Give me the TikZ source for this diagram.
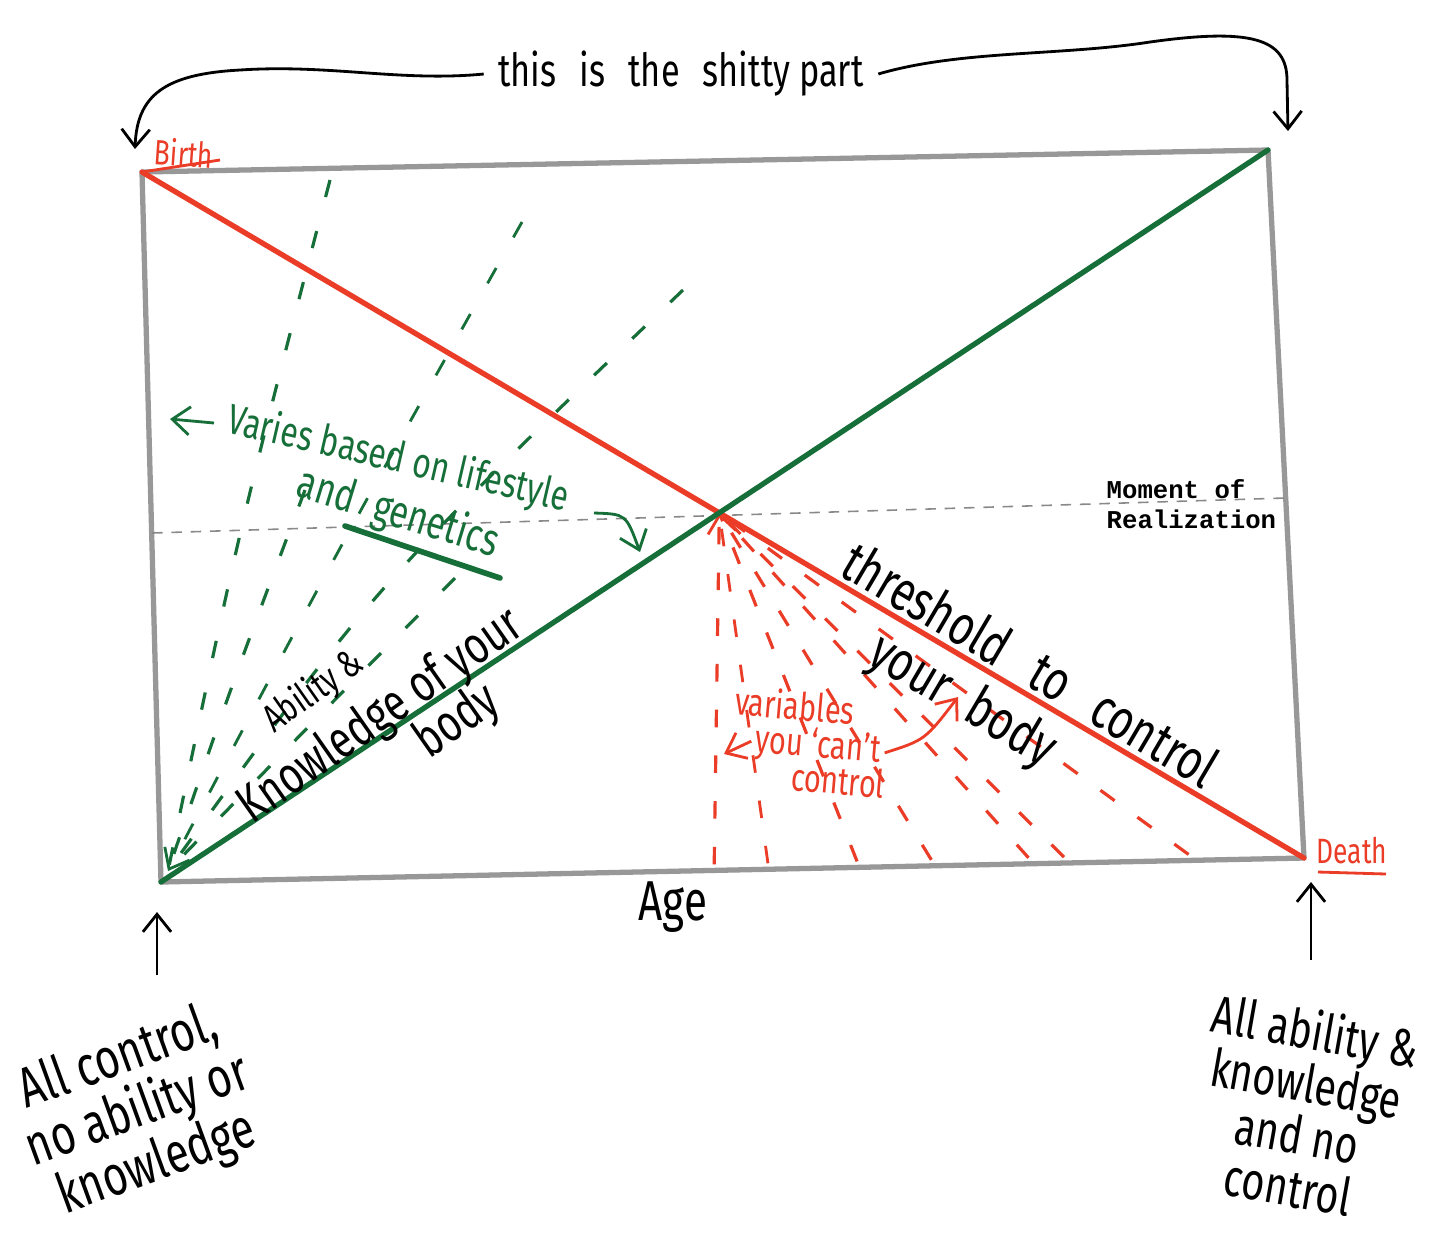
\documentclass[tikz,border=0pt]{standalone}
\usepackage{fontspec}
\newfontfamily\handfont[FakeStretch=0.75]{Fira Sans}
\newfontfamily\realfont{Liberation Mono}
\usetikzlibrary{arrows.meta,calc}
\definecolor{inkred}{RGB}{234,60,38}
\definecolor{inkgreen}{RGB}{22,110,56}
\definecolor{framegray}{RGB}{152,152,152}
\tikzset{
  frame/.style={draw=framegray, line width=1.5pt, line join=round},
  redline/.style={draw=inkred, line width=1.5pt, line cap=round},
  greenline/.style={draw=inkgreen, line width=1.5pt, line cap=round},
  reddash/.style={draw=inkred, line width=0.9pt, dash pattern=on 5pt off 8pt},
  greendash/.style={draw=inkgreen, line width=0.9pt, dash pattern=on 5pt off 10pt},
  greydash/.style={draw=framegray!90!black, line width=0.45pt, dash pattern=on 3pt off 2.5pt},
  hand/.style={font=\handfont\fontsize{#1}{#1}\selectfont, inner sep=1pt, align=center},
  mono/.style={font=\realfont\bfseries\fontsize{7.3}{8.6}\selectfont, inner sep=0pt, align=left},
  arrow/.style={-{Straight Barb[length=5pt,width=8pt]}, line width=0.8pt},
}

\begin{document}
\begin{tikzpicture}[x=0.01cm, y=-0.01cm]
  \useasboundingbox[fill=white] (0,0) rectangle (1456,1259);

  % Corners
  \coordinate (birth) at (142,172);
  \coordinate (topright) at (1268,150);
  \coordinate (death) at (1304,858);
  \coordinate (bottomleft) at (161,882);
  \coordinate (realize) at (intersection of birth--death and bottomleft--topright);
  \coordinate (fanfoot) at (168,871);

  % Frame
  \draw[frame] (birth) -- (topright) -- (death) -- (bottomleft) -- cycle;

  % Moment of realization
  \draw[greydash] (152,533) -- (1285,498);
  \node[mono, anchor=north west] (moment) at (1106,479) {Moment of\\Realization};

  % Green fan (lifestyle and genetics)
  \foreach \ex/\ey/\cx/\cy in {330/180/239/529, 305/490/232/684, 683/290/376/584, 455/578/305/730}
    \draw[greendash] (\ex,\ey) .. controls (\cx,\cy) .. (fanfoot);
  \draw[greendash, arrow] (522,222) .. controls (335,555) .. (fanfoot);

  % Red fan (variables)
  \foreach \t in {0.484,0.609,0.674,0.759,0.790,0.899}
    \draw[reddash] ($(bottomleft)!\t!(death)+(0,-6)$) -- (realize);
  \draw[reddash, arrow] ($(bottomleft)!0.531!(death)+(0,-6)$) -- (realize);

  % Diagonals
  \draw[redline] (birth) -- (death);
  \draw[greenline] (bottomleft) -- (topright);

  % Birth and death
  \node[hand=10, text=inkred, rotate=-4] (birthlbl) at (184,153) {Birth};
  \draw[inkred, line width=0.8pt] (birth) -- (220,160);
  \node[hand=10, text=inkred] (deathlbl) at (1352,851) {Death};
  \draw[inkred, line width=0.8pt] (1318,872) -- (1386,874);

  % Top bracket
  \node[hand=13, inner sep=4pt] (shitty) at (681,74) {this\hspace{4pt} is\hspace{4pt} the\hspace{4pt} shitty part};
  \coordinate (lefttip) at (135,149);
  \coordinate (righttip) at (1288,131);
  \draw[arrow] (shitty.west) .. controls (400,82) and (330,64) .. (240,70)
    .. controls (165,74) and (137,95) .. (lefttip);
  \draw[arrow] (shitty.east) .. controls (960,50) and (1060,56) .. (1150,42)
    .. controls (1250,28) and (1287,38) .. (1287,80) -- (righttip);

  % Green note
  \node[hand=12, text=inkgreen, rotate=-13] (varies) at (398,460) {Varies based on lifestyle};
  \node[hand=13, text=inkgreen, rotate=-17] (genetics) at (398,514) {and\hspace{3pt} genetics};
  \coordinate (variesfrom) at (214,423);
  \coordinate (variesto) at (170,419);
  \draw[arrow, inkgreen] (variesfrom) -- (variesto);
  \draw[inkgreen, line width=1.6pt, line cap=round] (345,526) -- (500,578);
  \coordinate (stylefrom) at (594,513);
  \coordinate (greenhit) at (640,552);
  \draw[arrow, inkgreen] (stylefrom) .. controls (626,514) .. (greenhit);

  % Along the green line
  \node[hand=11, rotate=35] (abil1) at (314,692) {Ability \&};
  \node[hand=15, rotate=35] (abil2) at (381,717) {Knowledge of your};
  \node[hand=15, rotate=35] (abil3) at (458,722) {body};

  % Along the red line
  \node[hand=16, rotate=-30.5] (thresh) at (1031,664) {threshold\hspace{6pt} to\hspace{6pt} control};
  \node[hand=16, rotate=-30.5] (yourbody) at (962,702) {your\hspace{4pt} body};

  % Red note
  \node[hand=11, text=inkred, rotate=-5] (var1) at (795,705) {variables};
  \node[hand=11, text=inkred, rotate=-5] (var2) at (818,747) {you ‘can’t};
  \node[hand=11, text=inkred, rotate=-5] (var3) at (838,780) {control};
  \coordinate (varto) at (724,754);
  \draw[arrow, inkred] (var2.west) -- (varto);
  \coordinate (bodyhit) at (958,697);
  \draw[arrow, inkred] (var2.east) .. controls (925,740) .. (bodyhit);

  % Axis
  \node[hand=16] (age) at (673,907) {Age};

  % Bottom notes
  \coordinate (lowl) at (157,975);
  \coordinate (upl) at (157,912);
  \draw[arrow] (lowl) -- (upl);
  \node[hand=16, rotate=20] (allcontrol) at (138,1112) {All control,\\no ability or\\knowledge};
  \coordinate (lowr) at (1311,960);
  \coordinate (upr) at (1311,882);
  \draw[arrow] (lowr) -- (upr);
  \node[hand=15, rotate=-10] (allability) at (1302,1108) {All ability \&\\knowledge\\and no\\control};
\end{tikzpicture}
\end{document}
